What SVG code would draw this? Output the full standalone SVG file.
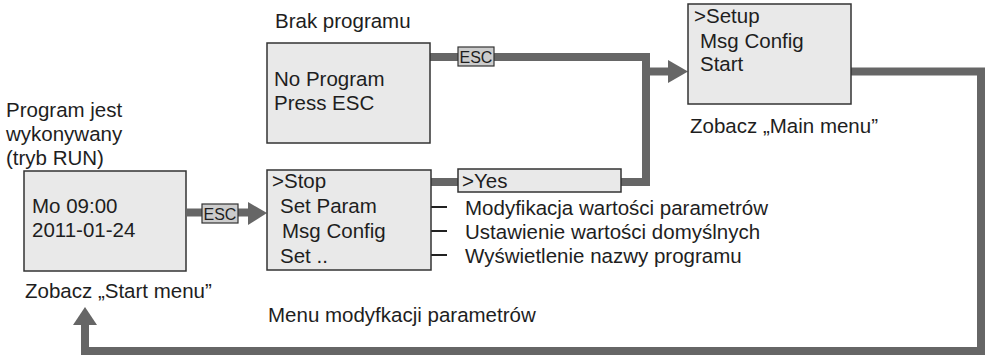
<svg xmlns="http://www.w3.org/2000/svg" width="985" height="355" viewBox="0 0 985 355">
<style>
text{font-family:"Liberation Sans",Arial,sans-serif;font-size:20.5px;fill:#1e1e1e}
.box{fill:#e9e9e9;stroke:#333;stroke-width:1.5}
.bar{fill:none;stroke:#666;stroke-width:8;stroke-linejoin:miter}
.head{fill:#666}
.esc{fill:#cccccc;stroke:#333;stroke-width:1.2}
.esct{font-size:16px}
.dash{stroke:#222;stroke-width:2}
</style>
<g id="connectors">
<path class="bar" d="M187,212.5 H250"/>
<polygon class="head" points="248,202 267,213 248,225"/>
<path class="bar" d="M430,57 H646 V182 H621"/>
<path class="bar" d="M646,71.5 H670"/>
<polygon class="head" points="668,60 688,71.5 668,83"/>
<path class="bar" d="M431,182 H458"/>
<path class="bar" d="M851,71.5 H981 V351 H85 V323"/>
<polygon class="head" points="73,325 85,307 97,325"/>
<line class="dash" x1="431" y1="207" x2="447" y2="207"/>
<line class="dash" x1="431" y1="231" x2="447" y2="231"/>
<line class="dash" x1="431" y1="255" x2="447" y2="255"/>
</g>
<g id="esc1">
<rect class="esc" x="202" y="204" width="36" height="19"/>
<text class="esct" x="203.5" y="219.5">ESC</text>
</g>
<g id="esc2">
<rect class="esc" x="458" y="47" width="36" height="19"/>
<text class="esct" x="459.5" y="62.5">ESC</text>
</g>
<g id="run">
<text x="6" y="117">Program jest</text>
<text x="6" y="141">wykonywany</text>
<text x="6" y="165">(tryb RUN)</text>
<rect class="box" x="24" y="171" width="162" height="100"/>
<text x="32" y="213">Mo 09:00</text>
<text x="32" y="237">2011-01-24</text>
<text x="25" y="298">Zobacz „Start menu”</text>
</g>
<g id="noprog">
<text x="275" y="28">Brak programu</text>
<rect class="box" x="267" y="43" width="163" height="100"/>
<text x="274" y="86">No Program</text>
<text x="274" y="110">Press ESC</text>
</g>
<g id="stopmenu">
<rect class="box" x="267" y="170" width="164" height="100"/>
<text x="272" y="188">&gt;Stop</text>
<text x="280" y="213">Set Param</text>
<text x="282" y="238">Msg Config</text>
<text x="280" y="263">Set ..</text>
<text x="268" y="322">Menu modyfkacji parametrów</text>
</g>
<g id="yes">
<rect class="box" x="458" y="169" width="163" height="23"/>
<text x="462" y="188">&gt;Yes</text>
</g>
<g id="notes">
<text x="465" y="215">Modyfikacja wartości parametrów</text>
<text x="465" y="239">Ustawienie wartości domyślnych</text>
<text x="465" y="263">Wyświetlenie nazwy programu</text>
</g>
<g id="mainmenu">
<rect class="box" x="688" y="4" width="163" height="100"/>
<text x="694" y="23">&gt;Setup</text>
<text x="700" y="48">Msg Config</text>
<text x="700" y="71">Start</text>
<text x="690" y="133">Zobacz „Main menu”</text>
</g>
</svg>
